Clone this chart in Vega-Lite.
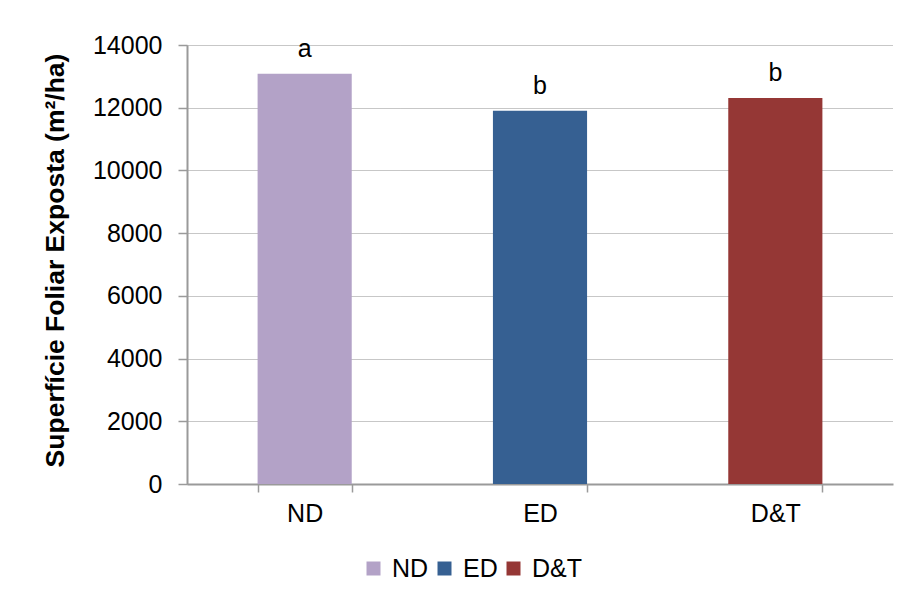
{
  "$schema": "https://vega.github.io/schema/vega-lite/v6.json",
  "width": 706,
  "height": 439,
  "autosize": {"type": "none"},
  "padding": {"left": 187, "top": 45, "right": 15, "bottom": 110},
  "background": "white",
  "data": {
    "values": [
      {"Tratamento": "ND", "SFE": 13080, "Letra": "a"},
      {"Tratamento": "ED", "SFE": 11900, "Letra": "b"},
      {"Tratamento": "D&T", "SFE": 12310, "Letra": "b"}
    ]
  },
  "encoding": {
    "x": {
      "field": "Tratamento",
      "type": "nominal",
      "sort": ["ND", "ED", "D&T"],
      "scale": {"paddingInner": 0.6, "paddingOuter": 0.3},
      "axis": {
        "title": null,
        "labelAngle": 0,
        "labelFontSize": 25,
        "labelColor": "black",
        "labelPadding": 9,
        "tickBand": "extent",
        "tickSize": 8,
        "tickColor": "#9a9a9a",
        "tickWidth": 1.5,
        "domainColor": "#9a9a9a",
        "domainWidth": 2
      }
    },
    "y": {
      "field": "SFE",
      "type": "quantitative",
      "scale": {"domain": [0, 14000], "nice": false},
      "axis": {
        "title": "Superfície Foliar Exposta (m²/ha)",
        "titleFontSize": 26.5,
        "titleFontWeight": "bold",
        "titleColor": "black",
        "titlePadding": 23,
        "titleY": 215,
        "values": [0, 2000, 4000, 6000, 8000, 10000, 12000, 14000],
        "format": "d",
        "labelFontSize": 25,
        "labelColor": "black",
        "labelPadding": 16,
        "tickSize": 9,
        "tickColor": "#9a9a9a",
        "tickWidth": 1.5,
        "domainColor": "#9a9a9a",
        "domainWidth": 2,
        "grid": true,
        "gridColor": "#8f8f8f",
        "gridDash": [1, 1],
        "gridWidth": 1
      }
    }
  },
  "layer": [
    {
      "mark": {"type": "bar"},
      "encoding": {
        "color": {
          "field": "Tratamento",
          "type": "nominal",
          "sort": ["ND", "ED", "D&T"],
          "scale": {"domain": ["ND", "ED", "D&T"], "range": ["#b3a2c7", "#366092", "#953735"]},
          "legend": {
            "title": null,
            "orient": "none",
            "direction": "horizontal",
            "legendX": 174,
            "legendY": 511,
            "gridAlign": "none",
            "symbolType": "square",
            "symbolSize": 196,
            "symbolStrokeWidth": 0,
            "labelFontSize": 25,
            "labelColor": "black",
            "labelOffset": 6,
            "columnPadding": 3
          }
        }
      }
    },
    {
      "mark": {"type": "text", "fontSize": 25, "baseline": "middle", "dy": -25, "color": "black"},
      "encoding": {"text": {"field": "Letra"}}
    }
  ],
  "config": {
    "font": "Liberation Sans",
    "view": {"stroke": null},
    "axis": {"labelFont": "Liberation Sans", "titleFont": "Liberation Sans"},
    "legend": {"labelFont": "Liberation Sans"}
  }
}
